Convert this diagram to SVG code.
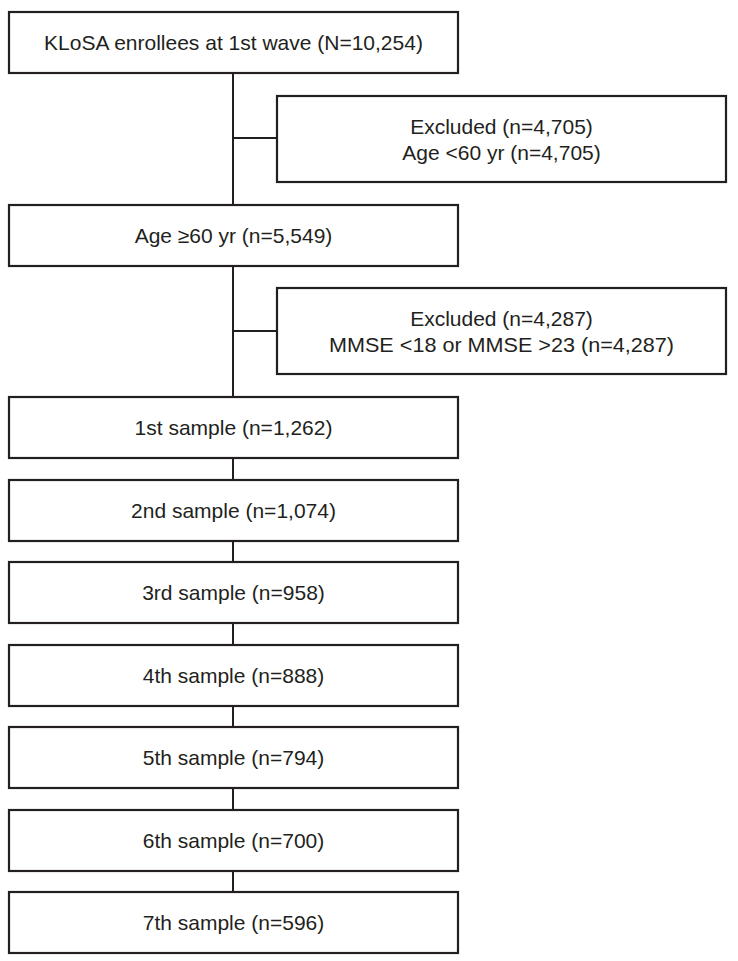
<svg xmlns="http://www.w3.org/2000/svg" width="738" height="961" viewBox="0 0 738 961">
<style>
.box{fill:#fff;stroke:#231f20;stroke-width:2.2}
.ln{stroke:#231f20;stroke-width:2;fill:none}
text{font-family:"Liberation Sans","DejaVu Sans",sans-serif;font-size:21px;fill:#231f20;text-anchor:middle}
</style>
<rect width="738" height="961" fill="#fff"/>
<g id="connectors">
<line class="ln" x1="233" y1="73" x2="233" y2="205"/>
<line class="ln" x1="233" y1="138" x2="277" y2="138"/>
<line class="ln" x1="233" y1="266" x2="233" y2="397"/>
<line class="ln" x1="233" y1="331" x2="277" y2="331"/>
<line class="ln" x1="233" y1="458" x2="233" y2="480"/>
<line class="ln" x1="233" y1="541" x2="233" y2="562"/>
<line class="ln" x1="233" y1="623" x2="233" y2="645"/>
<line class="ln" x1="233" y1="706" x2="233" y2="727"/>
<line class="ln" x1="233" y1="788" x2="233" y2="810"/>
<line class="ln" x1="233" y1="871" x2="233" y2="892"/>
</g>
<g id="n0"><rect class="box" x="9" y="12" width="449" height="61"/><text x="233.5" y="50">KLoSA enrollees at 1st wave (N=10,254)</text></g>
<g id="ex1"><rect class="box" x="277" y="96" width="449" height="86"/><text x="501.5" y="134">Excluded (n=4,705)</text><text x="501.5" y="160">Age &lt;60 yr (n=4,705)</text></g>
<g id="n1"><rect class="box" x="9" y="205" width="449" height="61"/><text x="233.5" y="243">Age ≥60 yr (n=5,549)</text></g>
<g id="ex2"><rect class="box" x="277" y="288" width="449" height="86"/><text x="501.5" y="326">Excluded (n=4,287)</text><text x="501.5" y="352" textLength="345" lengthAdjust="spacingAndGlyphs">MMSE &lt;18 or MMSE &gt;23 (n=4,287)</text></g>
<g id="s1"><rect class="box" x="9" y="397" width="449" height="61"/><text x="233.5" y="435">1st sample (n=1,262)</text></g>
<g id="s2"><rect class="box" x="9" y="480" width="449" height="61"/><text x="233.5" y="518">2nd sample (n=1,074)</text></g>
<g id="s3"><rect class="box" x="9" y="562" width="449" height="61"/><text x="233.5" y="600">3rd sample (n=958)</text></g>
<g id="s4"><rect class="box" x="9" y="645" width="449" height="61"/><text x="233.5" y="683">4th sample (n=888)</text></g>
<g id="s5"><rect class="box" x="9" y="727" width="449" height="61"/><text x="233.5" y="765">5th sample (n=794)</text></g>
<g id="s6"><rect class="box" x="9" y="810" width="449" height="61"/><text x="233.5" y="848">6th sample (n=700)</text></g>
<g id="s7"><rect class="box" x="9" y="892" width="449" height="61"/><text x="233.5" y="930">7th sample (n=596)</text></g>
</svg>
